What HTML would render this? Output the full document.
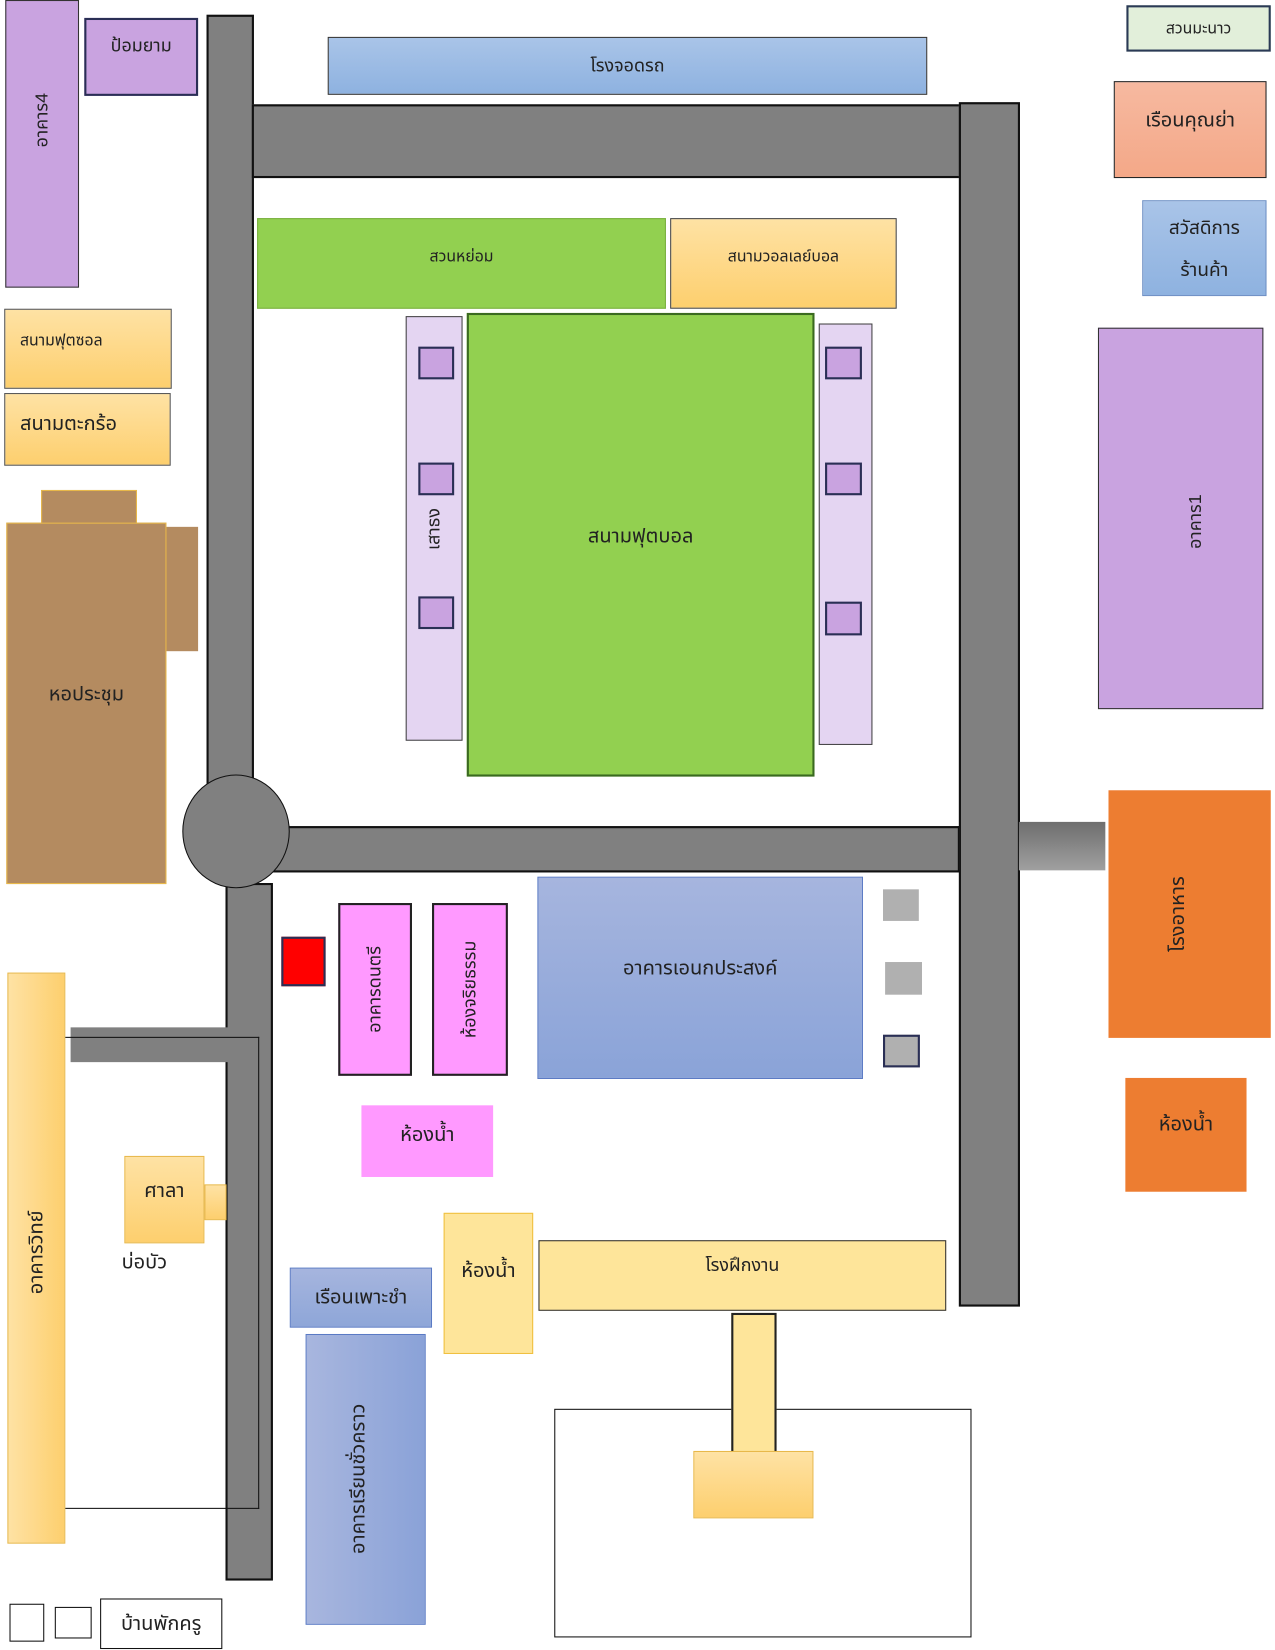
<!DOCTYPE html>
<html><head><meta charset="utf-8"><style>
html,body{margin:0;padding:0;width:1275px;height:1650px;overflow:hidden;background:#fff}
#w{position:absolute;left:0;top:0;width:1210px;height:1566px;transform:scale(1.0537);transform-origin:0 0;font-family:"Liberation Sans","Noto Sans Thai","Loma",sans-serif;color:#222}
.b{position:absolute;box-sizing:border-box;display:flex;align-items:center;justify-content:center;font-size:17px;text-align:center}
.r{background:#808080;border:2px solid #111}
.vl span{transform:rotate(-90deg);white-space:nowrap;display:inline-block}
.pu{background:#c9a3e0;border:1px solid #333}
.yg{background:linear-gradient(#fee2a4,#fdcf6e);border:1px solid #e8b84a}
.bl{background:linear-gradient(#a9c4e8,#8eb2e0);border:1px solid #6d8fc4}
.pk{background:#ff99ff;border:2px solid #222}
.gy{background:#b0b0b0}
.sq{background:#c9a3e0;border:2px solid #2a2f55}
</style></head><body><div id="w">
<div class="b pu vl" style="left:5px;top:0;width:70px;height:273px;align-items:flex-start;padding-top:100px"><span>อาคาร4</span></div>
<div class="b pu" style="left:80px;top:17px;width:108px;height:74px;border:2px solid #2a2f55;align-items:flex-start;padding-top:12px">ป้อมยาม</div>
<div class="b r" style="left:196px;top:14px;width:45px;height:732px"></div>
<div class="b r" style="left:239px;top:99px;width:673px;height:70px"></div>
<div class="b r" style="left:910px;top:97px;width:58px;height:1143px"></div>
<div class="b bl" style="left:311px;top:35px;width:569px;height:55px;border-color:#333">โรงจอดรถ</div>
<div class="b" style="left:1069px;top:5px;width:137px;height:44px;background:#e2efda;border:2px solid #2a3a55;font-size:15px">สวนมะนาว</div>
<div class="b" style="left:1057px;top:77px;width:145px;height:92px;background:linear-gradient(#f6b9a0,#f4a888);border:1px solid #222;align-items:flex-start;padding-top:22px;font-size:19px">เรือนคุณย่า</div>
<div class="b bl" style="left:1084px;top:190px;width:118px;height:91px;flex-direction:column;line-height:40px;font-size:18px">สวัสดิการ<br>ร้านค้า</div>
<div class="b pu vl" style="left:1042px;top:311px;width:157px;height:362px;align-items:flex-start;padding-top:170px;justify-content:flex-start;padding-left:66px"><span>อาคาร1</span></div>
<div class="b" style="left:244px;top:207px;width:388px;height:86px;background:#92d050;border:1px solid #7ab040;font-size:15px;align-items:flex-start;padding-top:24px">สวนหย่อม</div>
<div class="b yg" style="left:636px;top:207px;width:215px;height:86px;border-color:#444;font-size:15px;align-items:flex-start;padding-top:24px">สนามวอลเลย์บอล</div>
<div class="b vl" style="left:385px;top:300px;width:54px;height:403px;background:#e4d5f2;border:1px solid #444"><span>เสาธง</span></div>
<div class="b sq" style="left:397px;top:329px;width:34px;height:31px"></div>
<div class="b sq" style="left:397px;top:439px;width:34px;height:31px"></div>
<div class="b sq" style="left:397px;top:566px;width:34px;height:31px"></div>
<div class="b" style="left:443px;top:297px;width:330px;height:440px;background:#92d050;border:2px solid #3a6a20;font-size:19px;align-items:flex-start;padding-top:196px">สนามฟุตบอล</div>
<div class="b" style="left:777px;top:307px;width:51px;height:400px;background:#e4d5f2;border:1px solid #444"></div>
<div class="b sq" style="left:783px;top:329px;width:35px;height:31px"></div>
<div class="b sq" style="left:783px;top:439px;width:35px;height:31px"></div>
<div class="b sq" style="left:783px;top:571px;width:35px;height:32px"></div>
<div class="b yg" style="left:4px;top:293px;width:159px;height:76px;border-color:#555;justify-content:flex-start;padding-left:14px;align-items:flex-start;padding-top:18px;font-size:15px">สนามฟุตซอล</div>
<div class="b yg" style="left:4px;top:373px;width:158px;height:69px;border-color:#555;justify-content:flex-start;padding-left:14px;align-items:flex-start;padding-top:14px;font-size:19px">สนามตะกร้อ</div>
<div class="b" style="left:39px;top:465px;width:91px;height:32px;background:#b48b60;border:1px solid #e8b84a"></div>
<div class="b" style="left:158px;top:500px;width:30px;height:118px;background:#b48b60"></div>
<div class="b" style="left:6px;top:496px;width:152px;height:343px;background:#b48b60;border:1px solid #e8b84a;font-size:19px;align-items:flex-start;padding-top:148px">หอประชุม</div>
<div class="b r" style="left:258px;top:784px;width:653px;height:44px;border-left:none"></div>
<div class="b r" style="left:214px;top:838px;width:45px;height:662px"></div>
<div style="position:absolute;left:173px;top:735px;width:102px;height:108px;border-radius:50%;background:#808080;border:1px solid #111;box-sizing:border-box"></div>
<div class="b" style="left:267px;top:889px;width:42px;height:47px;background:#f00;border:2px solid #2a2f55"></div>
<div class="b pk vl" style="left:321px;top:857px;width:70px;height:164px"><span>อาคารดนตรี</span></div>
<div class="b pk vl" style="left:410px;top:857px;width:72px;height:164px"><span>ห้องจริยธรรม</span></div>
<div class="b" style="left:510px;top:832px;width:309px;height:192px;background:linear-gradient(#a6b5de,#8aa3d8);border:1px solid #5a7ac4;font-size:19px;align-items:flex-start;padding-top:72px">อาคารเอนกประสงค์</div>
<div class="b gy" style="left:838px;top:844px;width:34px;height:30px"></div>
<div class="b gy" style="left:840px;top:913px;width:35px;height:31px"></div>
<div class="b gy" style="left:838px;top:982px;width:35px;height:31px;border:2px solid #2a2f55"></div>
<div class="b" style="left:343px;top:1049px;width:125px;height:68px;background:#ff99ff;font-size:19px;align-items:flex-start;padding-top:14px">ห้องน้ำ</div>
<div class="b" style="left:967px;top:780px;width:82px;height:46px;background:linear-gradient(#6e6e6e,#a0a0a0)"></div>
<div class="b vl" style="left:1052px;top:750px;width:154px;height:235px;background:#ed7d31;font-size:19px;padding-right:22px"><span>โรงอาหาร</span></div>
<div class="b" style="left:1068px;top:1023px;width:115px;height:108px;background:#ed7d31;align-items:flex-start;padding-top:30px;font-size:19px">ห้องน้ำ</div>
<div class="b yg vl" style="left:7px;top:923px;width:55px;height:542px;background:linear-gradient(90deg,#fee2a4,#fdcf6e);font-size:19px;align-items:flex-start;padding-top:250px"><span>อาคารวิทย์</span></div>
<div class="b" style="left:67px;top:975px;width:158px;height:33px;background:#808080"></div>
<div style="position:absolute;left:62px;top:984px;width:184px;height:448px;border:1px solid #111;border-left:none;box-sizing:border-box"></div>
<div class="b yg" style="left:118px;top:1097px;width:76px;height:83px;align-items:flex-start;padding-top:18px;font-size:19px">ศาลา</div>
<div class="b yg" style="left:194px;top:1124px;width:21px;height:34px"></div>
<div class="b" style="left:108px;top:1185px;width:58px;height:26px;font-size:19px">บ่อบัว</div>
<div class="b bl" style="left:275px;top:1203px;width:135px;height:57px;background:linear-gradient(#a6b5de,#8ea6d8);border-color:#5a7ac4;font-size:19px">เรือนเพาะชำ</div>
<div class="b" style="left:290px;top:1266px;width:114px;height:276px;background:linear-gradient(90deg,#a8b6de,#8aa2d8);border:1px solid #5a7ac4"></div>
<div class="b vl" style="left:250px;top:1388px;width:180px;height:30px;font-size:19px"><span>อาคารเรียนชั่วคราว</span></div>
<div class="b" style="left:421px;top:1151px;width:85px;height:134px;background:#fee59a;border:1px solid #f0c040;align-items:flex-start;padding-top:40px;font-size:19px">ห้องน้ำ</div>
<div class="b" style="left:511px;top:1177px;width:387px;height:67px;background:#fee59a;border:1px solid #333;align-items:flex-start;padding-top:10px;font-size:17px">โรงฝึกงาน</div>
<div class="b" style="left:526px;top:1337px;width:396px;height:217px;border:1px solid #111"></div>
<div class="b" style="left:694px;top:1246px;width:43px;height:134px;background:#fee59a;border:2px solid #222"></div>
<div class="b yg" style="left:658px;top:1377px;width:114px;height:64px"></div>
<div class="b" style="left:9px;top:1522px;width:33px;height:36px;border:1px solid #111"></div>
<div class="b" style="left:52px;top:1525px;width:35px;height:30px;border:1px solid #111"></div>
<div class="b" style="left:95px;top:1517px;width:116px;height:48px;border:1px solid #111;font-size:19px">บ้านพักครู</div>
</div></body></html>
